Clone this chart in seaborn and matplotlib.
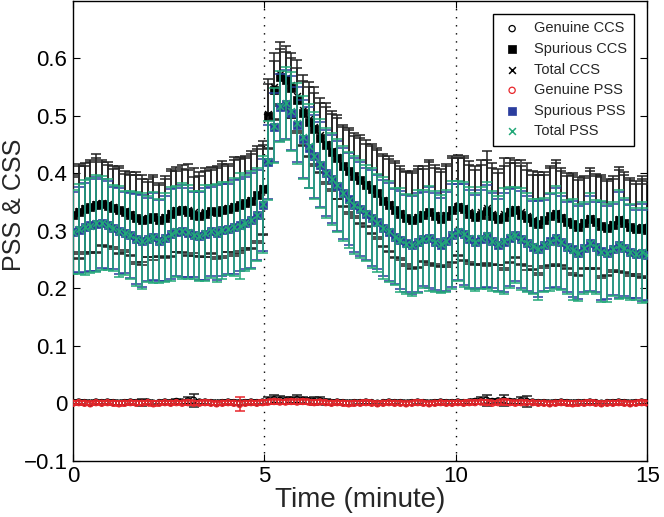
import numpy as np
import matplotlib
matplotlib.use("Agg")
from matplotlib import pyplot as plt
import seaborn as sns

# sampling times (minutes), one point every 9 s
time_min = np.linspace(0, 15, 101)

spurious_ccs = [
    0.328, 0.332, 0.338, 0.342, 0.345, 0.347, 0.344, 0.340, 0.336, 0.333,
    0.328, 0.322, 0.318, 0.320, 0.324, 0.318, 0.322, 0.330, 0.334, 0.336,
    0.332, 0.328, 0.326, 0.330, 0.334, 0.332, 0.336, 0.338, 0.342, 0.345,
    0.348, 0.352, 0.362, 0.372, 0.500, 0.545, 0.568, 0.562, 0.548, 0.528,
    0.505, 0.490, 0.478, 0.462, 0.450, 0.438, 0.426, 0.412, 0.404, 0.395,
    0.388, 0.380, 0.372, 0.365, 0.352, 0.345, 0.336, 0.330, 0.322, 0.318,
    0.322, 0.328, 0.332, 0.326, 0.320, 0.326, 0.336, 0.342, 0.338, 0.330,
    0.324, 0.328, 0.334, 0.326, 0.320, 0.324, 0.332, 0.336, 0.328, 0.322,
    0.316, 0.312, 0.318, 0.325, 0.330, 0.322, 0.316, 0.312, 0.306, 0.314,
    0.320, 0.315, 0.308, 0.305, 0.311, 0.318, 0.313, 0.307, 0.303, 0.305,
    0.301,
]
spurious_ccs_err = [
    0.065, 0.080, 0.075, 0.078, 0.082, 0.072, 0.070, 0.068, 0.074, 0.066,
    0.070, 0.076, 0.072, 0.065, 0.070, 0.062, 0.068, 0.074, 0.070, 0.072,
    0.074, 0.066, 0.070, 0.075, 0.072, 0.078, 0.080, 0.074, 0.082, 0.080,
    0.078, 0.082, 0.080, 0.078, 0.055, 0.050, 0.048, 0.050, 0.052, 0.055,
    0.056, 0.060, 0.062, 0.060, 0.065, 0.066, 0.070, 0.068, 0.072, 0.070,
    0.074, 0.072, 0.076, 0.075, 0.078, 0.080, 0.082, 0.078, 0.080, 0.082,
    0.085, 0.080, 0.088, 0.084, 0.082, 0.086, 0.090, 0.084, 0.088, 0.085,
    0.082, 0.086, 0.090, 0.084, 0.080, 0.088, 0.086, 0.082, 0.085, 0.084,
    0.082, 0.086, 0.080, 0.084, 0.088, 0.082, 0.080, 0.085, 0.082, 0.078,
    0.084, 0.080, 0.086, 0.082, 0.080, 0.088, 0.084, 0.082, 0.078, 0.086,
    0.080,
]
genuine_ccs = [
    0.001, 0.002, 0.001, 0.000, 0.002, 0.001, 0.002, 0.001, 0.000, 0.001,
    0.002, 0.001, 0.001, 0.002, 0.000, 0.001, 0.002, 0.001, 0.003, 0.002,
    0.004, 0.005, 0.002, 0.002, 0.001, 0.000, 0.001, 0.002, 0.001, 0.000,
    0.001, 0.002, 0.001, 0.002, 0.004, 0.006, 0.005, 0.004, 0.005, 0.006,
    0.005, 0.004, 0.003, 0.004, 0.002, 0.001, 0.002, 0.001, 0.000, 0.001,
    0.001, 0.002, 0.001, 0.000, 0.001, 0.002, 0.001, 0.001, 0.000, 0.001,
    0.002, 0.001, 0.000, 0.001, 0.002, 0.001, 0.001, 0.002, 0.001, 0.002,
    0.003, 0.004, 0.005, 0.003, 0.004, 0.005, 0.003, 0.002, 0.004, 0.003,
    0.002, 0.001, 0.001, 0.000, 0.001, 0.002, 0.001, 0.000, 0.001, 0.001,
    0.002, 0.001, 0.000, 0.001, 0.001, 0.002, 0.001, 0.000, 0.001, 0.002,
    0.001,
]
genuine_ccs_err = [
    0.004, 0.003, 0.004, 0.003, 0.004, 0.003, 0.004, 0.004, 0.003, 0.004,
    0.003, 0.004, 0.006, 0.003, 0.004, 0.003, 0.004, 0.003, 0.004, 0.004,
    0.006, 0.011, 0.004, 0.003, 0.004, 0.003, 0.004, 0.003, 0.004, 0.003,
    0.004, 0.003, 0.004, 0.004, 0.006, 0.008, 0.007, 0.006, 0.005, 0.008,
    0.006, 0.005, 0.007, 0.006, 0.005, 0.004, 0.003, 0.004, 0.003, 0.004,
    0.003, 0.004, 0.003, 0.004, 0.003, 0.004, 0.003, 0.004, 0.003, 0.004,
    0.003, 0.004, 0.003, 0.004, 0.003, 0.004, 0.003, 0.004, 0.003, 0.004,
    0.004, 0.006, 0.010, 0.005, 0.004, 0.010, 0.005, 0.004, 0.006, 0.009,
    0.004, 0.003, 0.004, 0.003, 0.004, 0.003, 0.004, 0.003, 0.004, 0.003,
    0.004, 0.003, 0.004, 0.003, 0.004, 0.003, 0.004, 0.003, 0.004, 0.003,
    0.004,
]

spurious_pss = [
    0.298, 0.302, 0.306, 0.310, 0.312, 0.313, 0.310, 0.305, 0.300, 0.297,
    0.292, 0.286, 0.282, 0.285, 0.290, 0.283, 0.287, 0.294, 0.298, 0.300,
    0.297, 0.293, 0.291, 0.295, 0.299, 0.297, 0.301, 0.303, 0.307, 0.310,
    0.314, 0.318, 0.328, 0.345, 0.420, 0.480, 0.515, 0.520, 0.505, 0.485,
    0.460, 0.445, 0.430, 0.415, 0.400, 0.390, 0.378, 0.365, 0.355, 0.345,
    0.338, 0.330, 0.322, 0.315, 0.305, 0.298, 0.290, 0.284, 0.278, 0.275,
    0.280, 0.286, 0.288, 0.281, 0.276, 0.282, 0.292, 0.298, 0.294, 0.286,
    0.280, 0.286, 0.291, 0.283, 0.276, 0.280, 0.288, 0.293, 0.285, 0.278,
    0.272, 0.268, 0.275, 0.282, 0.288, 0.280, 0.272, 0.268, 0.262, 0.270,
    0.278, 0.272, 0.265, 0.262, 0.268, 0.275, 0.270, 0.264, 0.260, 0.262,
    0.258,
]
spurious_pss_err = [
    0.070, 0.075, 0.078, 0.080, 0.082, 0.078, 0.076, 0.072, 0.075, 0.070,
    0.074, 0.078, 0.080, 0.072, 0.075, 0.070, 0.074, 0.078, 0.076, 0.080,
    0.078, 0.074, 0.076, 0.080, 0.078, 0.082, 0.080, 0.078, 0.082, 0.080,
    0.080, 0.082, 0.078, 0.080, 0.065, 0.060, 0.058, 0.060, 0.064, 0.066,
    0.068, 0.070, 0.072, 0.074, 0.075, 0.076, 0.078, 0.080, 0.080, 0.082,
    0.082, 0.080, 0.084, 0.082, 0.084, 0.085, 0.082, 0.086, 0.084, 0.085,
    0.086, 0.082, 0.088, 0.084, 0.082, 0.086, 0.090, 0.084, 0.088, 0.085,
    0.082, 0.085, 0.088, 0.083, 0.080, 0.086, 0.084, 0.081, 0.085, 0.083,
    0.080, 0.084, 0.079, 0.082, 0.086, 0.081, 0.079, 0.084, 0.081, 0.077,
    0.082, 0.079, 0.085, 0.081, 0.079, 0.092, 0.083, 0.081, 0.077, 0.084,
    0.079,
]
genuine_pss = [
    0.000, 0.001, 0.000, -0.001, 0.001, 0.000, 0.001, 0.000, -0.001, 0.000,
    0.001, 0.000, 0.000, 0.001, -0.001, 0.000, 0.001, 0.000, 0.001, 0.000,
    0.001, 0.000, 0.000, 0.001, 0.000, -0.001, 0.000, 0.001, 0.000, -0.002,
    0.000, 0.001, 0.000, 0.001, 0.002, 0.003, 0.002, 0.002, 0.003, 0.002,
    0.003, 0.002, 0.001, 0.002, 0.001, 0.000, 0.001, 0.000, -0.001, 0.000,
    0.000, 0.001, 0.000, -0.001, 0.000, 0.001, 0.000, 0.000, -0.001, 0.000,
    0.001, 0.000, -0.001, 0.000, 0.001, 0.000, 0.000, 0.001, 0.000, 0.001,
    0.001, 0.002, 0.001, 0.000, 0.001, 0.002, 0.001, 0.000, 0.001, 0.001,
    0.001, 0.000, 0.000, -0.001, 0.000, 0.001, 0.000, -0.001, 0.000, 0.000,
    0.001, 0.000, -0.001, 0.000, 0.000, 0.001, 0.000, -0.001, 0.000, 0.001,
    0.000,
]
genuine_pss_err = [
    0.003, 0.003, 0.004, 0.003, 0.003, 0.004, 0.003, 0.003, 0.004, 0.003,
    0.003, 0.004, 0.003, 0.003, 0.004, 0.003, 0.003, 0.004, 0.003, 0.003,
    0.004, 0.003, 0.003, 0.004, 0.003, 0.003, 0.004, 0.003, 0.003, 0.012,
    0.004, 0.003, 0.003, 0.004, 0.004, 0.005, 0.004, 0.004, 0.005, 0.004,
    0.004, 0.003, 0.004, 0.003, 0.003, 0.004, 0.003, 0.003, 0.004, 0.003,
    0.003, 0.004, 0.003, 0.003, 0.004, 0.003, 0.003, 0.004, 0.003, 0.003,
    0.004, 0.003, 0.003, 0.004, 0.003, 0.003, 0.004, 0.003, 0.003, 0.004,
    0.003, 0.004, 0.005, 0.004, 0.003, 0.006, 0.004, 0.003, 0.004, 0.003,
    0.003, 0.004, 0.003, 0.003, 0.004, 0.003, 0.003, 0.004, 0.003, 0.003,
    0.004, 0.003, 0.003, 0.004, 0.003, 0.003, 0.004, 0.003, 0.003, 0.004,
    0.003,
]

# totals are genuine + spurious
total_ccs = np.array(genuine_ccs) + np.array(spurious_ccs)
total_ccs_err = np.array(genuine_ccs_err) + np.array(spurious_ccs_err)
total_pss = np.array(genuine_pss) + np.array(spurious_pss)
total_pss_err = np.array(genuine_pss_err) + np.array(spurious_pss_err)

red = "#e8262b"
blue = "#2b3d9e"
green = "#22a878"

series = [
    ("Genuine CCS", genuine_ccs, genuine_ccs_err, "black", "o"),
    ("Spurious CCS", spurious_ccs, spurious_ccs_err, "black", "s"),
    ("Total CCS", total_ccs, total_ccs_err, "black", "x"),
    ("Genuine PSS", genuine_pss, genuine_pss_err, red, "o"),
    ("Spurious PSS", spurious_pss, spurious_pss_err, blue, "s"),
    ("Total PSS", total_pss, total_pss_err, green, "x"),
]

sns.set_style("ticks")
plt.rcParams["font.family"] = ["Liberation Sans", "DejaVu Sans"]

fig = plt.figure(figsize=(6.64, 5.17), dpi=100)
ax = fig.add_axes([0.110, 0.109, 0.865, 0.889])

for k, (name, mean, err, color, marker) in enumerate(series):
    z = 2 + 2 * k
    ecol = "#222222" if color == "black" else color
    ax.errorbar(time_min, mean, yerr=err, fmt="none", ecolor=ecol,
                elinewidth=1.1, capsize=3.4, capthick=1.1, zorder=z)
    if marker == "o":
        sns.scatterplot(x=time_min, y=mean, marker="o", s=20, facecolor="none",
                        edgecolor=color, linewidth=0.9, label=name, ax=ax, zorder=z + 1)
    elif marker == "s":
        sns.scatterplot(x=time_min, y=mean, marker="s", s=26, color=color,
                        edgecolor=color, linewidth=0.5, label=name, ax=ax, zorder=z + 1)
    else:
        sns.scatterplot(x=time_min, y=mean, marker="x", s=24, color=color,
                        linewidth=1.1, label=name, ax=ax, zorder=z + 1)

for xv in [5, 10]:
    ax.axvline(xv, color="black", linestyle=(0, (1, 4.8)), linewidth=1.0, zorder=1)

ax.set_xlim(0, 15)
ax.set_ylim(-0.1, 0.7)
ax.set_xticks([0, 5, 10, 15])
ax.set_yticks([-0.1, 0, 0.1, 0.2, 0.3, 0.4, 0.5, 0.6])
ax.set_yticklabels(["\u22120.1", "0", "0.1", "0.2", "0.3", "0.4", "0.5", "0.6"])
ax.tick_params(direction="in", length=5, width=0.8, top=True, right=True,
               labelsize=16, colors="black", pad=4)
for sp in ax.spines.values():
    sp.set_visible(True)
    sp.set_color("black")
    sp.set_linewidth(1.0)

ax.set_xlabel("Time (minute)", fontsize=20, labelpad=0)
ax.set_ylabel("PSS & CSS", fontsize=18)
ax.yaxis.set_label_coords(-0.082, 0.556)

leg = ax.legend(loc="upper right", fontsize=10.5, frameon=True, fancybox=False,
                edgecolor="black", framealpha=1, borderaxespad=0.9,
                borderpad=0.5, labelspacing=0.45, handletextpad=0.7,
                handlelength=1.6, markerscale=1.0)
leg.get_frame().set_linewidth(1.0)

fig.savefig("out.png", dpi=100)
